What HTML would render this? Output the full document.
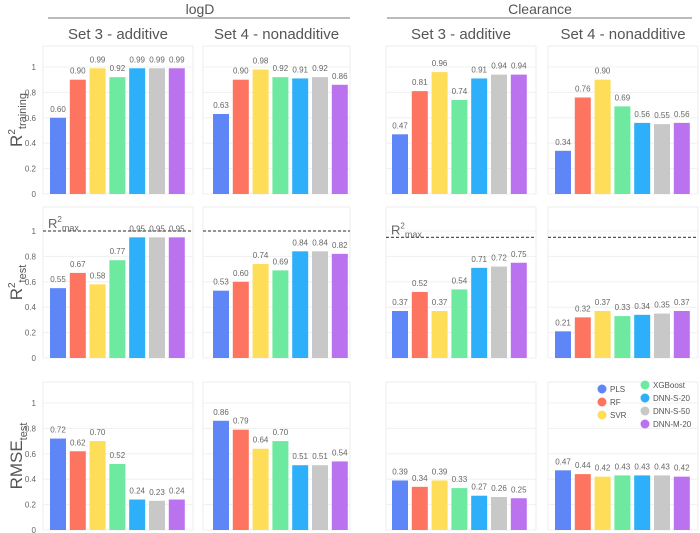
<!DOCTYPE html>
<html><head><meta charset="utf-8"><style>
html,body{margin:0;padding:0;background:#fff;}
svg{display:block;font-family:"Liberation Sans",sans-serif;}
</style></head><body>
<svg id="c" width="700" height="533" viewBox="0 0 700 533"></svg>
<script>
const models = ["PLS","RF","SVR","XGBoost","DNN-S-20","DNN-S-50","DNN-M-20"];
const colors = ["#5f86f7","#fd7560","#fedd58","#6ee9a0","#2eaff9","#c8c8c8","#bb72ee"];
const groupTitles = ["logD","Clearance"];
const setTitles = ["Set 3 - additive","Set 4 - nonadditive","Set 3 - additive","Set 4 - nonadditive"];
const rowTitles = ["training","test","test"];
const yTicks = [0,0.2,0.4,0.6,0.8,1];
const r2train = [
  [0.60,0.90,0.99,0.92,0.99,0.99,0.99],
  [0.63,0.90,0.98,0.92,0.91,0.92,0.86],
  [0.47,0.81,0.96,0.74,0.91,0.94,0.94],
  [0.34,0.76,0.90,0.69,0.56,0.55,0.56]
];
const r2test = [
  [0.55,0.67,0.58,0.77,0.95,0.95,0.95],
  [0.53,0.60,0.74,0.69,0.84,0.84,0.82],
  [0.37,0.52,0.37,0.54,0.71,0.72,0.75],
  [0.21,0.32,0.37,0.33,0.34,0.35,0.37]
];
const rmse = [
  [0.72,0.62,0.70,0.52,0.24,0.23,0.24],
  [0.86,0.79,0.64,0.70,0.51,0.51,0.54],
  [0.39,0.34,0.39,0.33,0.27,0.26,0.25],
  [0.47,0.44,0.42,0.43,0.43,0.43,0.42]
];
const r2max = [1.0,1.0,0.95,0.95];

const NS="http://www.w3.org/2000/svg";
const svg=document.getElementById('c');
function mk(tag,attrs,parent){const e=document.createElementNS(NS,tag);for(const k in attrs)e.setAttribute(k,attrs[k]);(parent||svg).appendChild(e);return e;}

const cols=[{x0:43,x1:193,b0:50},{x0:203,x1:350,b0:213},{x0:386,x1:536,b0:392},{x0:548,x1:698,b0:555}];
const rows=[{top:46,y0:194,data:r2train},{top:207,y0:358,data:r2test},{top:382,y0:530,data:rmse}];
const unit=127;
const barW=16, step=19.8;

// group headers
[[200,48,350],[540,387,692]].forEach((g,i)=>{
  const t=mk('text',{x:g[0],y:14,'text-anchor':'middle','font-size':14,fill:'#555'});t.textContent=groupTitles[i];
  
  const l=mk('line',{x1:g[1],x2:g[2],y1:18,y2:18,stroke:'#777','stroke-width':1});
  
});
cols.forEach((c,i)=>{
  const t=mk('text',{x:(c.x0+c.x1)/2,y:39,'text-anchor':'middle','font-size':15,fill:'#555'});
  t.textContent=setTitles[i];
  
});

// y axis titles
rows.forEach((r,ri)=>{
  const cy=(r.top+r.y0)/2;
  const t=mk('text',{transform:`translate(22,${cy}) rotate(-90)`,'text-anchor':'middle','font-size':17,fill:'#555'});
  
  if(ri<2){
    t.appendChild(document.createTextNode('R'));
    const s=mk('tspan',{'font-size':10,dy:-7},t);s.textContent='2';
    const s2=mk('tspan',{'font-size':11,dy:11},t);s2.textContent=rowTitles[ri];
  } else {
    t.appendChild(document.createTextNode('RMSE'));
    const s2=mk('tspan',{'font-size':11,dy:5},t);s2.textContent='test';
  }
});

rows.forEach((r,ri)=>{
  const ys=v=>r.y0-v*unit;
  cols.forEach((c,ci)=>{
    const g=mk('g',{});
    
    mk('rect',{x:c.x0,y:r.top,width:c.x1-c.x0,height:r.y0-r.top,fill:'#fff',stroke:'#eee','stroke-width':1},g);
    yTicks.forEach(v=>{
      mk('line',{x1:c.x0,x2:c.x1,y1:ys(v),y2:ys(v),stroke:'#f0f0f0'},g);
      if(ci===0){
        const t=mk('text',{x:36,y:ys(v)+3,'text-anchor':'end','font-size':8,fill:'#666'},g);
        t.textContent=String(v);
        
      }
    });
    r.data[ci].forEach((v,i)=>{
      const x=c.b0+i*step;
      const b=mk('rect',{x:x,y:ys(v),width:barW,height:v*unit,fill:colors[i]},g);
      
      const t=mk('text',{x:x+barW/2,y:ys(v)-6,'text-anchor':'middle','font-size':8,fill:'#666'},g);
      t.textContent=v.toFixed(2);
      
    });
    if(ri===1){
      const l=mk('line',{x1:c.x0,x2:c.x1,y1:ys(r2max[ci]),y2:ys(r2max[ci]),stroke:'#555','stroke-width':1.2,'stroke-dasharray':'3,2'},g);
      
      if(ci===0||ci===2){
        const t=mk('text',{x:c.x0+5,y:ys(r2max[ci])-3,'font-size':13,fill:'#666'},g);
        
        t.appendChild(document.createTextNode('R'));
        const s=mk('tspan',{'font-size':8,dy:-6},t);s.textContent='2';
        const s2=mk('tspan',{'font-size':9,dy:9},t);s2.textContent='max';
      }
    }
  });
});

// legend
const leg=mk('g',{});

const lpos=[[602,389],[602,402],[602,415],[645,385],[645,398],[645,411],[645,424]];
models.forEach((m,i)=>{
  const e=mk('g',{},leg);
  
  mk('circle',{cx:lpos[i][0],cy:lpos[i][1],r:4.5,fill:colors[i]},e);
  const t=mk('text',{x:lpos[i][0]+8,y:lpos[i][1]+3,'font-size':8,fill:'#555'},e);t.textContent=m;
});
</script>
</body></html>
